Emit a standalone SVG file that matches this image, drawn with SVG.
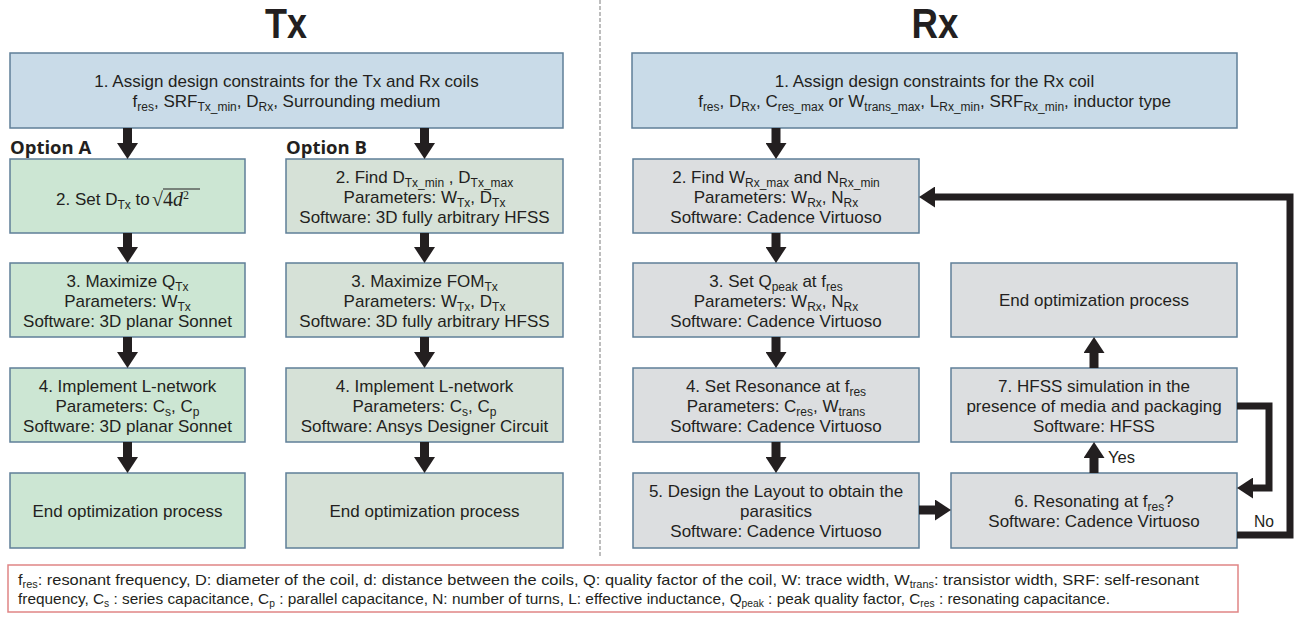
<svg xmlns="http://www.w3.org/2000/svg" width="1299" height="620" viewBox="0 0 1299 620">
  <defs>
    <style>
      .bx { stroke:#5f7f98; stroke-width:1.5; }
      .blue { fill:#c9dbe8; }
      .green { fill:#cce6d3; }
      .sage { fill:#d6e1d7; }
      .gray { fill:#dcdee0; }
      .t { font-family:"Liberation Sans", Arial, sans-serif; font-size:17px; fill:#231f20; text-anchor:middle; }
      .s { font-size:12px; }
      .title { font-family:"Liberation Sans", Arial, sans-serif; font-size:42px; font-weight:bold; fill:#231f20; text-anchor:middle; }
      .opt { font-family:"Open Sans", sans-serif; font-size:18.5px; font-weight:bold; fill:#231f20; }
      .conn { stroke:#231f20; stroke-width:9; fill:none; }
      .loop { stroke:#231f20; stroke-width:7; fill:none; stroke-linejoin:miter; }
      .small { font-family:"Liberation Sans", Arial, sans-serif; font-size:16px; fill:#231f20; }
      .leg { font-family:"Liberation Sans", Arial, sans-serif; font-size:15px; fill:#231f20; }
    </style>
    <marker id="ah" markerUnits="userSpaceOnUse" viewBox="0 0 16 21" refX="0" refY="10.5" markerWidth="16" markerHeight="21" orient="auto">
      <path d="M0,0 L16,10.5 L0,21 Z" fill="#231f20"/>
    </marker>
  </defs>

  <!-- divider -->
  <line x1="600" y1="0" x2="600" y2="556" stroke="#a8a8a8" stroke-width="1.5" stroke-dasharray="4,2"/>

  <!-- titles -->
  <text class="title" x="286" y="38" textLength="42" lengthAdjust="spacingAndGlyphs">Tx</text>
  <text class="title" x="935" y="38" textLength="47" lengthAdjust="spacingAndGlyphs">Rx</text>
  <text class="opt" x="10" y="154">Option A</text>
  <text class="opt" x="286" y="154">Option B</text>

  <!-- Tx nodes -->
  <g id="tx1">
    <rect class="bx blue" x="10" y="53" width="553" height="75"/>
    <text class="t" x="286.5" y="87">1. Assign design constraints for the Tx and Rx coils</text>
    <text class="t" x="286.5" y="107">f<tspan class="s" dy="4">res</tspan><tspan dy="-4">, SRF</tspan><tspan class="s" dy="4">Tx_min</tspan><tspan dy="-4">, D</tspan><tspan class="s" dy="4">Rx</tspan><tspan dy="-4">, Surrounding medium</tspan></text>
  </g>
  <g id="txA2">
    <rect class="bx green" x="10" y="159" width="235" height="74"/>
    <text class="t" x="56" y="205" style="text-anchor:start">2. Set D<tspan class="s" dy="4">Tx</tspan><tspan dy="-4"> to </tspan></text>
    <text x="152" y="206" style="font-family:'Liberation Serif',serif;font-size:20px;fill:#231f20">√<tspan>4</tspan><tspan font-style="italic">d</tspan><tspan font-size="12" dy="-7">2</tspan></text>
    <line x1="163" y1="189" x2="200" y2="189" stroke="#231f20" stroke-width="1"/>
  </g>
  <g id="txA3">
    <rect class="bx green" x="10" y="263" width="235" height="74"/>
    <text class="t" x="127.5" y="287">3. Maximize Q<tspan class="s" dy="4">Tx</tspan></text>
    <text class="t" x="127.5" y="307">Parameters: W<tspan class="s" dy="4">Tx</tspan></text>
    <text class="t" x="127.5" y="327">Software: 3D planar Sonnet</text>
  </g>
  <g id="txA4">
    <rect class="bx green" x="10" y="368" width="235" height="74"/>
    <text class="t" x="127.5" y="392">4. Implement L-network</text>
    <text class="t" x="127.5" y="412">Parameters: C<tspan class="s" dy="4">s</tspan><tspan dy="-4">, C</tspan><tspan class="s" dy="4">p</tspan></text>
    <text class="t" x="127.5" y="432">Software: 3D planar Sonnet</text>
  </g>
  <g id="txA5">
    <rect class="bx green" x="10" y="473" width="235" height="75"/>
    <text class="t" x="127.5" y="517">End optimization process</text>
  </g>
  <g id="txB2">
    <rect class="bx sage" x="286" y="159" width="277" height="74"/>
    <text class="t" x="424.5" y="183">2. Find D<tspan class="s" dy="4">Tx_min</tspan><tspan dy="-4"> , D</tspan><tspan class="s" dy="4">Tx_max</tspan></text>
    <text class="t" x="424.5" y="203">Parameters: W<tspan class="s" dy="4">Tx</tspan><tspan dy="-4">, D</tspan><tspan class="s" dy="4">Tx</tspan></text>
    <text class="t" x="424.5" y="223">Software: 3D fully arbitrary HFSS</text>
  </g>
  <g id="txB3">
    <rect class="bx sage" x="286" y="263" width="277" height="74"/>
    <text class="t" x="424.5" y="287">3. Maximize FOM<tspan class="s" dy="4">Tx</tspan></text>
    <text class="t" x="424.5" y="307">Parameters: W<tspan class="s" dy="4">Tx</tspan><tspan dy="-4">, D</tspan><tspan class="s" dy="4">Tx</tspan></text>
    <text class="t" x="424.5" y="327">Software: 3D fully arbitrary HFSS</text>
  </g>
  <g id="txB4">
    <rect class="bx sage" x="286" y="368" width="277" height="74"/>
    <text class="t" x="424.5" y="392">4. Implement L-network</text>
    <text class="t" x="424.5" y="412">Parameters: C<tspan class="s" dy="4">s</tspan><tspan dy="-4">, C</tspan><tspan class="s" dy="4">p</tspan></text>
    <text class="t" x="424.5" y="432">Software: Ansys Designer Circuit</text>
  </g>
  <g id="txB5">
    <rect class="bx sage" x="286" y="473" width="277" height="75"/>
    <text class="t" x="424.5" y="517">End optimization process</text>
  </g>

  <!-- Rx nodes -->
  <g id="rx1">
    <rect class="bx blue" x="632" y="53" width="605" height="75"/>
    <text class="t" x="934.5" y="87">1. Assign design constraints for the Rx coil</text>
    <text class="t" x="934.5" y="107">f<tspan class="s" dy="4">res</tspan><tspan dy="-4">, D</tspan><tspan class="s" dy="4">Rx</tspan><tspan dy="-4">, C</tspan><tspan class="s" dy="4">res_max</tspan><tspan dy="-4"> or W</tspan><tspan class="s" dy="4">trans_max</tspan><tspan dy="-4">, L</tspan><tspan class="s" dy="4">Rx_min</tspan><tspan dy="-4">, SRF</tspan><tspan class="s" dy="4">Rx_min</tspan><tspan dy="-4">, inductor type</tspan></text>
  </g>
  <g id="rx2">
    <rect class="bx gray" x="633" y="159" width="286" height="74"/>
    <text class="t" x="776" y="183">2. Find W<tspan class="s" dy="4">Rx_max</tspan><tspan dy="-4"> and N</tspan><tspan class="s" dy="4">Rx_min</tspan></text>
    <text class="t" x="776" y="203">Parameters: W<tspan class="s" dy="4">Rx</tspan><tspan dy="-4">, N</tspan><tspan class="s" dy="4">Rx</tspan></text>
    <text class="t" x="776" y="223">Software: Cadence Virtuoso</text>
  </g>
  <g id="rx3">
    <rect class="bx gray" x="633" y="263" width="286" height="74"/>
    <text class="t" x="776" y="287">3. Set Q<tspan class="s" dy="4">peak</tspan><tspan dy="-4"> at f</tspan><tspan class="s" dy="4">res</tspan></text>
    <text class="t" x="776" y="307">Parameters: W<tspan class="s" dy="4">Rx</tspan><tspan dy="-4">, N</tspan><tspan class="s" dy="4">Rx</tspan></text>
    <text class="t" x="776" y="327">Software: Cadence Virtuoso</text>
  </g>
  <g id="rx4">
    <rect class="bx gray" x="633" y="368" width="286" height="74"/>
    <text class="t" x="776" y="392">4. Set Resonance at f<tspan class="s" dy="4">res</tspan></text>
    <text class="t" x="776" y="412">Parameters: C<tspan class="s" dy="4">res</tspan><tspan dy="-4">, W</tspan><tspan class="s" dy="4">trans</tspan></text>
    <text class="t" x="776" y="432">Software: Cadence Virtuoso</text>
  </g>
  <g id="rx5">
    <rect class="bx gray" x="633" y="473" width="286" height="75"/>
    <text class="t" x="776" y="497">5. Design the Layout to obtain the</text>
    <text class="t" x="776" y="517">parasitics</text>
    <text class="t" x="776" y="537">Software: Cadence Virtuoso</text>
  </g>
  <g id="rxEnd">
    <rect class="bx gray" x="951" y="263" width="286" height="74"/>
    <text class="t" x="1094" y="306">End optimization process</text>
  </g>
  <g id="rx7">
    <rect class="bx gray" x="951" y="368" width="286" height="74"/>
    <text class="t" x="1094" y="392">7. HFSS simulation in the</text>
    <text class="t" x="1094" y="412">presence of media and packaging</text>
    <text class="t" x="1094" y="432">Software: HFSS</text>
  </g>
  <g id="rx6">
    <rect class="bx gray" x="951" y="473" width="286" height="75"/>
    <text class="t" x="1094" y="507">6. Resonating at f<tspan class="s" dy="4">res</tspan><tspan dy="-4">?</tspan></text>
    <text class="t" x="1094" y="527">Software: Cadence Virtuoso</text>
  </g>

  <!-- connectors -->
  <g id="connectors">
    <line class="conn" x1="127.5" y1="128" x2="127.5" y2="143" marker-end="url(#ah)"/>
    <line class="conn" x1="424.5" y1="128" x2="424.5" y2="143" marker-end="url(#ah)"/>
    <line class="conn" x1="127.5" y1="233" x2="127.5" y2="247" marker-end="url(#ah)"/>
    <line class="conn" x1="127.5" y1="337" x2="127.5" y2="352" marker-end="url(#ah)"/>
    <line class="conn" x1="127.5" y1="442" x2="127.5" y2="457" marker-end="url(#ah)"/>
    <line class="conn" x1="424.5" y1="233" x2="424.5" y2="247" marker-end="url(#ah)"/>
    <line class="conn" x1="424.5" y1="337" x2="424.5" y2="352" marker-end="url(#ah)"/>
    <line class="conn" x1="424.5" y1="442" x2="424.5" y2="457" marker-end="url(#ah)"/>
    <line class="conn" x1="776" y1="128" x2="776" y2="143" marker-end="url(#ah)"/>
    <line class="conn" x1="776" y1="233" x2="776" y2="247" marker-end="url(#ah)"/>
    <line class="conn" x1="776" y1="337" x2="776" y2="352" marker-end="url(#ah)"/>
    <line class="conn" x1="776" y1="442" x2="776" y2="457" marker-end="url(#ah)"/>
    <line class="conn" x1="919" y1="510" x2="935" y2="510" marker-end="url(#ah)"/>
    <line class="conn" x1="1094" y1="473" x2="1094" y2="458" marker-end="url(#ah)"/>
    <line class="conn" x1="1094" y1="368" x2="1094" y2="353" marker-end="url(#ah)"/>
    <path class="loop" d="M1237,535 H1290 V197 H935" marker-end="url(#ah)"/>
    <path class="loop" d="M1237,406 H1269 V488 H1253" marker-end="url(#ah)"/>
    <text class="small" x="1108" y="463" textLength="27" lengthAdjust="spacingAndGlyphs">Yes</text>
    <text class="small" x="1254" y="527" textLength="20" lengthAdjust="spacingAndGlyphs">No</text>
  </g>

  <!-- legend -->
  <g id="legend">
    <rect x="8" y="565" width="1230" height="47" fill="#ffffff" stroke="#e08585" stroke-width="1.5"/>
    <text class="leg" x="18" y="585" textLength="1181" lengthAdjust="spacingAndGlyphs">f<tspan font-size="10" dy="3">res</tspan><tspan dy="-3">: resonant frequency, D: diameter of the coil, d: distance between the coils, Q: quality factor of the coil, W: trace width, W</tspan><tspan font-size="10" dy="3">trans</tspan><tspan dy="-3">: transistor width, SRF: self-resonant</tspan></text>
    <text class="leg" x="18" y="604" textLength="1092" lengthAdjust="spacingAndGlyphs">frequency, C<tspan font-size="10" dy="3">s</tspan><tspan dy="-3"> : series capacitance, C</tspan><tspan font-size="10" dy="3">p</tspan><tspan dy="-3"> : parallel capacitance, N: number of turns, L: effective inductance, Q</tspan><tspan font-size="10" dy="3">peak</tspan><tspan dy="-3"> : peak quality factor, C</tspan><tspan font-size="10" dy="3">res</tspan><tspan dy="-3"> : resonating capacitance.</tspan></text>
  </g>
</svg>
